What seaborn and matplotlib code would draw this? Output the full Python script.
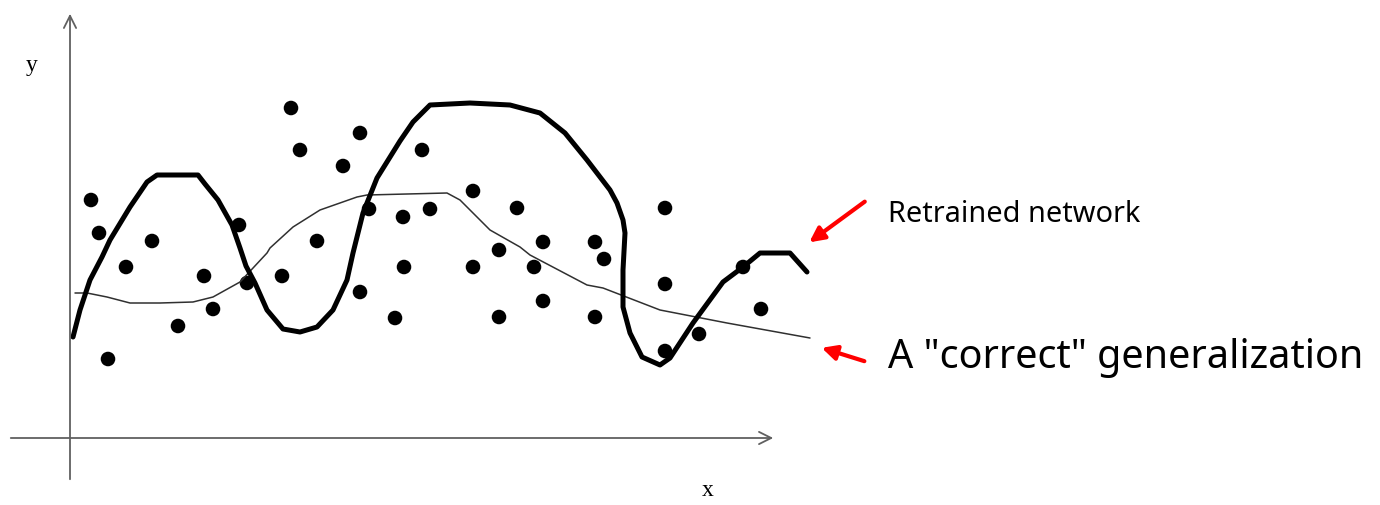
#!/usr/bin/env python3
# Retrained network vs "correct" generalization sketch

import pandas as pd
import matplotlib
matplotlib.use('Agg')
import matplotlib.pyplot as plt
import seaborn as sns

sns.set_style('white')

# Data points (x, y), origin at the crossing of the axes
dots_x = [221, 230, 290, 273, 352, 21, 29, 82, 169, 299, 333, 360, 247,
          56, 134, 212, 334, 290, 325, 143, 108, 38, 177,
          403, 447, 595, 473, 525, 429, 534, 403, 464, 595, 473, 429, 525,
          673, 691, 629, 595]
dots_y = [330, 288, 305, 272, 288, 238, 205, 197, 213, 229, 221, 229, 197,
          171, 162, 162, 171, 146, 120, 129, 112, 79, 155,
          247, 230, 230, 196, 196, 188, 179, 171, 171, 154, 137, 121, 121,
          171, 129, 104, 87]

# Retrained network (thick, over-fitted)
retrained_x = [3, 10, 20, 32, 40, 60, 77, 87, 128, 135, 148, 162, 170, 176,
               185, 197, 213, 230, 247, 263, 277, 283, 293, 307, 330, 343,
               360, 400, 440, 470, 495, 517, 540, 547, 553, 555, 553, 553,
               560, 572, 590, 600, 623, 653, 673, 690, 720, 737]
retrained_y = [101, 128, 158, 181, 198, 231, 256, 263, 263, 254, 238, 213,
               190, 172, 155, 128, 109, 106, 111, 128, 158, 185, 225, 260,
               297, 316, 333, 335, 333, 325, 305, 278, 248, 235, 218, 205,
               168, 131, 105, 81, 73, 80, 115, 156, 171, 185, 185, 166]

# "Correct" generalization (thin, smooth)
correct_x = [5, 17, 37, 60, 90, 123, 143, 170, 197, 200, 223, 250, 287,
             297, 377, 390, 420, 450, 460, 517, 533, 590, 657, 740]
correct_y = [145, 145, 141, 135, 135, 136, 141, 156, 185, 190, 211, 228,
             241, 243, 245, 238, 208, 191, 183, 153, 150, 128, 115, 100]

labels = {'retrained': 'Retrained network',
          'correct': 'A "correct" generalization'}

dots = pd.DataFrame({'x': dots_x, 'y': dots_y})
retrained = pd.DataFrame({'x': retrained_x, 'y': retrained_y})
correct = pd.DataFrame({'x': correct_x, 'y': correct_y})

fig = plt.figure(figsize=(13.8, 5.05), dpi=100)
ax = fig.add_axes([0, 0, 1, 1])
ax.set_xlim(-70, 1310)
ax.set_ylim(-67, 438)
ax.axis('off')

# axes drawn as arrows
axis_col = '#606060'
ax.annotate('', xy=(0, 427), xytext=(0, -44),
            arrowprops=dict(arrowstyle='->', color=axis_col, lw=1.3,
                            mutation_scale=22))
ax.annotate('', xy=(706, 0), xytext=(-62, 0),
            arrowprops=dict(arrowstyle='->', color=axis_col, lw=1.3,
                            mutation_scale=22))
ax.text(-38, 372, 'y', fontsize=17, family='Liberation Serif',
        ha='center', va='center', color='black')
ax.text(638, -53, 'x', fontsize=17, family='Liberation Serif',
        ha='center', va='center', color='black')

sns.lineplot(data=correct, x='x', y='y', sort=False, estimator=None,
             color='#303030', linewidth=1.1, ax=ax)
sns.lineplot(data=retrained, x='x', y='y', sort=False, estimator=None,
             color='black', linewidth=3.6, ax=ax)
sns.scatterplot(data=dots, x='x', y='y', color='black', s=110,
                edgecolor='none', ax=ax)
ax.set_xlabel('')
ax.set_ylabel('')

# red arrows with their captions
ax.annotate('', xy=(737, 194), xytext=(797, 238),
            arrowprops=dict(arrowstyle='-|>', color='red', lw=3,
                            mutation_scale=22))
ax.annotate('', xy=(749, 91), xytext=(797, 76),
            arrowprops=dict(arrowstyle='-|>', color='red', lw=3,
                            mutation_scale=22))
ax.text(818, 223, labels['retrained'], fontsize=20.8, family='Noto Sans',
        ha='left', va='center', color='black')
ax.text(818, 80, labels['correct'], fontsize=28.5, family='Noto Sans',
        ha='left', va='center', color='black')

plt.savefig('out.png', dpi=100)
